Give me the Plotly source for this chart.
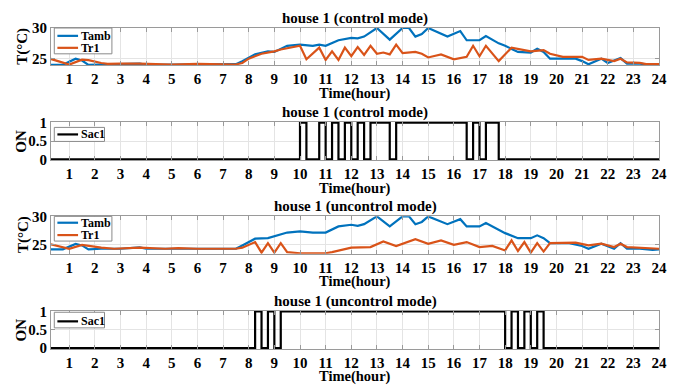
import plotly.graph_objects as go

# ---------------- data ----------------
hour_ticks = list(range(1, 25))

# house 1 (control mode)
tamb_ctrl_t = [0.25, 0.75, 1.25, 1.5, 1.75, 2.25, 3.0, 3.75, 4.0, 5.0, 6.0, 7.0, 7.5, 7.75,
               8.25, 8.75, 9.0, 9.5, 10.0, 10.5, 10.75, 11.0, 11.5, 12.0, 12.25, 12.5, 13.0,
               13.5, 14.0, 14.25, 14.5, 14.75, 15.0, 15.75, 16.25, 16.5, 17.0, 17.25, 17.75,
               18.0, 18.5, 19.0, 19.25, 19.5, 19.75, 20.25, 20.75, 21.0, 21.25, 21.75, 22.0,
               22.5, 22.75, 23.25, 23.75, 24.0]
tamb_ctrl = [24.0, 24.0, 25.0, 24.7, 24.0, 24.05, 24.05, 24.2, 24.0, 24.0, 24.0, 24.0, 24.1, 24.6,
             25.7, 26.2, 26.1, 27.1, 27.3, 27.1, 27.3, 27.1, 28.0, 28.4, 28.3, 28.6, 30.0,
             28.1, 30.0, 30.0, 28.6, 29.0, 30.0, 28.6, 29.5, 28.0, 28.0, 28.7, 27.5,
             27.1, 26.1, 26.0, 26.6, 26.1, 25.0, 25.0, 25.0, 24.6, 24.1, 25.0, 24.3,
             25.1, 24.2, 24.2, 23.95, 23.95]

tr1_ctrl_t = [0.25, 1.0, 1.5, 1.75, 2.25, 2.5, 3.0, 3.75, 5.0, 6.0, 7.5, 7.75, 8.0, 8.5, 9.0,
              9.25, 10.0, 10.25, 10.75, 11.0, 11.25, 11.5, 11.75, 12.0, 12.25, 12.5, 12.75,
              13.0, 13.25, 13.5, 13.75, 14.0, 14.5, 14.75, 15.0, 15.5, 16.0, 16.5, 16.75,
              17.0, 17.25, 17.75, 18.25, 18.5, 19.0, 19.5, 19.75, 20.25, 21.0, 21.25, 21.75,
              22.25, 22.5, 22.75, 23.25, 23.5, 24.0]
tr1_ctrl = [25.0, 24.05, 24.85, 24.75, 24.3, 24.15, 24.2, 24.2, 24.05, 24.15, 24.05, 24.3, 25.0, 25.8, 26.2,
            26.5, 27.1, 24.9, 26.8, 24.8, 26.2, 24.8, 26.8, 25.4, 26.9, 25.6, 27.1,
            25.8, 26.0, 25.7, 27.3, 25.9, 26.1, 25.8, 25.2, 25.7, 24.9, 25.3, 27.1,
            25.4, 27.1, 24.6, 26.8, 26.6, 26.2, 26.4, 25.8, 25.3, 25.3, 24.8, 25.0,
            24.6, 25.0, 24.4, 24.3, 24.1, 24.1]

sac1_ctrl_t = [0.25, 10.0, 10.25, 10.75, 11.0, 11.25, 11.5, 11.75, 12.0, 12.25, 12.5,
               12.75, 13.5, 13.75, 16.5, 16.75, 17.0, 17.25, 17.75, 24.0]
sac1_ctrl = [0, 1, 0, 1, 0, 1, 0, 1, 0, 1, 0,
             1, 0, 1, 0, 1, 0, 1, 0, 0]

# house 1 (uncontrol mode)
tamb_unc_t = [0.25, 0.75, 1.25, 1.5, 1.75, 2.25, 3.0, 3.75, 4.0, 5.0, 6.0, 7.0, 7.5, 7.75,
              8.25, 8.75, 9.0, 9.5, 10.0, 10.5, 11.0, 11.5, 12.0, 12.25, 12.5, 13.0, 13.5,
              14.0, 14.25, 14.5, 14.75, 15.0, 15.75, 16.25, 16.5, 17.0, 17.25, 17.75, 18.0,
              18.5, 19.0, 19.25, 19.5, 19.75, 20.5, 21.0, 21.25, 21.75, 22.25, 22.5, 22.75,
              23.25, 23.75, 24.0]
tamb_unc = [24.1, 24.1, 25.05, 24.8, 24.1, 24.2, 24.2, 24.45, 24.2, 24.2, 24.2, 24.2, 24.2, 24.8,
            26.0, 26.1, 26.4, 27.1, 27.3, 27.1, 27.1, 28.2, 28.5, 28.3, 28.6, 30.0, 28.2,
            30.0, 30.0, 28.6, 29.0, 30.0, 28.6, 29.5, 28.2, 28.2, 28.8, 27.5, 27.0,
            26.1, 26.1, 26.6, 26.1, 25.2, 25.2, 24.7, 24.2, 25.1, 24.2, 25.2, 24.2,
            24.2, 24.0, 24.1]

tr1_unc_t = [0.25, 1.0, 1.5, 1.75, 2.25, 2.75, 3.75, 4.75, 5.25, 6.0, 7.5, 7.75, 8.25, 8.5,
             8.75, 9.0, 9.25, 9.5, 10.0, 11.0, 11.25, 12.0, 12.75, 13.25, 13.75, 14.5, 15.0,
             15.5, 16.0, 16.5, 17.0, 17.5, 18.0, 18.25, 18.5, 18.75, 19.0, 19.25, 19.5,
             19.75, 20.75, 21.25, 21.75, 22.25, 22.5, 22.75, 23.25, 24.0]
tr1_unc = [25.05, 24.2, 24.9, 24.7, 24.4, 24.2, 24.4, 24.2, 24.3, 24.2, 24.2, 24.4, 25.4, 23.5,
           25.2, 23.5, 25.2, 23.6, 23.4, 23.4, 23.6, 24.4, 24.5, 25.5, 24.7, 25.9, 25.1,
           25.7, 24.9, 25.4, 24.5, 24.7, 23.9, 25.7, 23.8, 25.4, 23.5, 25.2, 23.7,
           25.2, 25.3, 24.8, 25.1, 24.5, 25.1, 24.5, 24.4, 24.2]

sac1_unc_t = [0.25, 8.25, 8.5, 8.75, 9.0, 9.25, 18.0, 18.25, 18.5, 18.75, 19.0, 19.25, 19.5, 24.0]
sac1_unc = [0, 1, 0, 1, 0, 1, 0, 1, 0, 1, 0, 1, 0, 0]

titles = ["house 1 (control mode)", "house 1 (control mode)",
          "house 1 (uncontrol mode)", "house 1 (uncontrol mode)"]

# ---------------- style ----------------
FONT = "Liberation Serif, Times New Roman, serif"
BLUE = "#0072BD"
ORANGE = "#D95319"
AXC = "#9a9a9a"
GRID = "#e4e4e4"

domains = [[0.8834, 1.0], [0.588, 0.7077], [0.2966, 0.4132], [0.0, 0.1196]]

# compact in-axes legend boxes (axis-domain fractions): box [x0, x1, y0, y1], entry rows
legend_boxes = [[0.0054, 0.1002, 0.31, 1.0], [0.0054, 0.088, 0.49, 0.855],
                [0.0054, 0.1002, 0.34, 1.0], [0.0054, 0.088, 0.55, 0.957]]
legend_rows = [[0.79, 0.47], [0.672], [0.83, 0.50], [0.72]]

fig = go.Figure()
series = []  # (subplot index, name, color)

def add(x, y, name, color, idx, shape="linear"):
    sfx = "" if idx == 1 else str(idx)
    fig.add_trace(go.Scatter(x=x, y=y, mode="lines", name=name,
                             line=dict(color=color, width=2.2, shape=shape),
                             xaxis="x" + sfx, yaxis="y" + sfx, showlegend=False))
    series.append((idx, name, color))

add(tamb_ctrl_t, tamb_ctrl, "Tamb", BLUE, 1)
add(tr1_ctrl_t, tr1_ctrl, "Tr1", ORANGE, 1)
add(sac1_ctrl_t, sac1_ctrl, "Sac1", "black", 2, "hv")
add(tamb_unc_t, tamb_unc, "Tamb", BLUE, 3)
add(tr1_unc_t, tr1_unc, "Tr1", ORANGE, 3)
add(sac1_unc_t, sac1_unc, "Sac1", "black", 4, "hv")

tickfont = dict(family=FONT, size=15, color="black", weight="bold")
# page body has an 8px default margin: figure is sized/offset to compensate
layout = dict(
    width=683, height=383,
    margin=dict(l=43, r=32, t=15, b=42),
    paper_bgcolor="white", plot_bgcolor="white",
    font=dict(family=FONT, color="black"),
    showlegend=False,
)

yranges = [[23.9, 30], [-0.025, 1.025], [23.3, 30], [-0.025, 1.025]]
yticks = [[25, 30], [0, 0.5, 1], [25, 30], [0, 0.5, 1]]
yticktext = [["25", "30"], ["0", "0.5", "1"], ["25", "30"], ["0", "0.5", "1"]]

annotations = []
shapes = []
for i in range(4):
    sfx = "" if i == 0 else str(i + 1)
    xd, yd = "x" + sfx + " domain", "y" + sfx + " domain"
    layout["xaxis" + sfx] = dict(
        domain=[0, 1], anchor="y" + sfx, range=[0.29, 24],
        tickvals=hour_ticks, ticktext=[str(h) for h in hour_ticks],
        tickfont=tickfont, ticks="inside", ticklen=4, tickcolor=AXC,
        showline=True, linecolor=AXC, linewidth=1, mirror="ticks",
        showgrid=True, gridcolor=GRID, gridwidth=1, zeroline=False,
    )
    layout["yaxis" + sfx] = dict(
        domain=domains[i], anchor="x" + sfx, range=yranges[i],
        tickvals=yticks[i], ticktext=yticktext[i],
        tickfont=tickfont, ticks="inside", ticklen=4, tickcolor=AXC,
        showline=True, linecolor=AXC, linewidth=1, mirror="ticks",
        showgrid=True, gridcolor=GRID, gridwidth=1, zeroline=False,
    )
    # legend box
    bx0, bx1, by0, by1 = legend_boxes[i]
    shapes.append(dict(type="rect", xref=xd, yref=yd, x0=bx0, x1=bx1, y0=by0, y1=by1,
                       fillcolor="white", line=dict(color="#8a8a8a", width=1), layer="above"))
    entries = [s for s in series if s[0] == i + 1]
    for (idx, name, color), ry in zip(entries, legend_rows[i]):
        shapes.append(dict(type="line", xref=xd, yref=yd, x0=0.0105, x1=0.0445, y0=ry, y1=ry,
                           line=dict(color=color, width=2.2), layer="above"))
        annotations.append(dict(
            text=name, xref=xd, yref=yd, x=0.0455, y=ry, xanchor="left", yanchor="middle",
            showarrow=False, font=dict(family=FONT, size=12, color="black", weight="bold")))
    # subplot title
    annotations.append(dict(
        text=titles[i], xref=xd, yref=yd,
        x=0.5, y=1, xanchor="center", yanchor="bottom", yshift=-1, showarrow=False,
        font=dict(family=FONT, size=15, color="black", weight="bold")))
    # x axis title
    annotations.append(dict(
        text="Time(hour)", xref=xd, yref=yd,
        x=0.5, y=0, xanchor="center", yanchor="middle", yshift=-28, showarrow=False,
        font=dict(family=FONT, size=14.5, color="black", weight="bold")))
    # y axis title
    ytitle = "T(°C)" if i in (0, 2) else "ON"
    annotations.append(dict(
        text=ytitle, xref="paper", yref=yd,
        x=-0.046 if i in (0, 2) else -0.05, y=0.5, xanchor="center", yanchor="middle",
        textangle=-90, showarrow=False,
        font=dict(family=FONT, size=15, color="black", weight="bold")))

layout["annotations"] = annotations
layout["shapes"] = shapes
fig.update_layout(**layout)
fig.write_html("out.html")
